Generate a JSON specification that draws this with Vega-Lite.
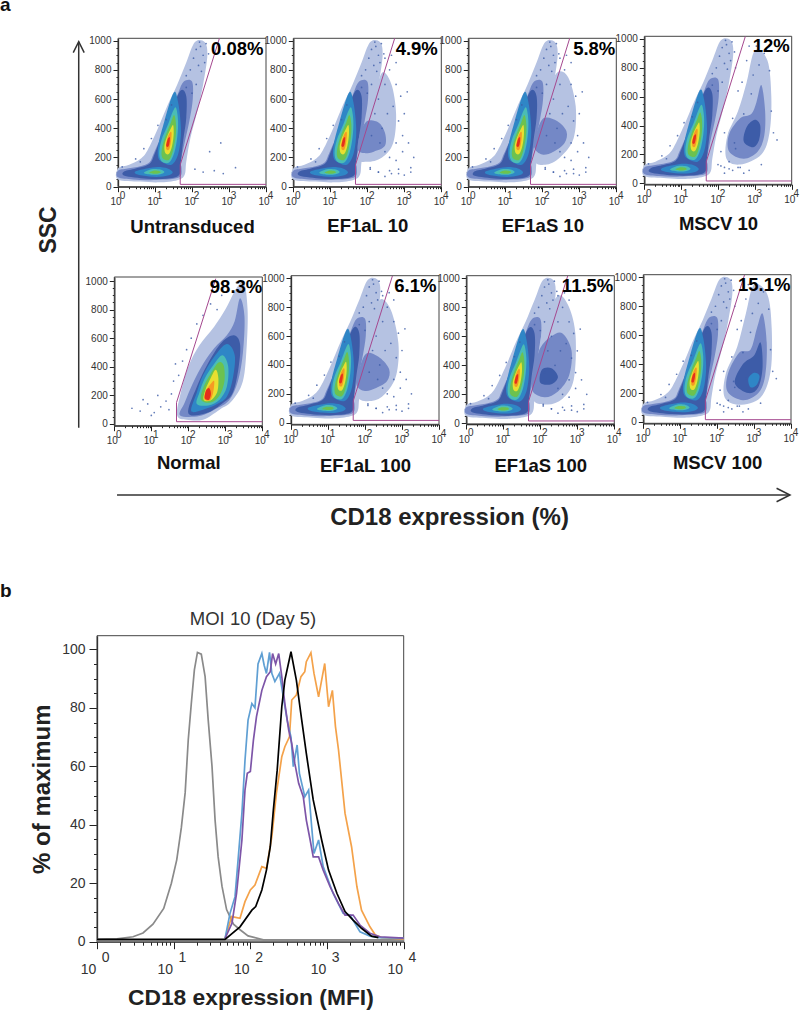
{"$schema":"https://vega.github.io/schema/vega-lite/v6.json","autosize":{"type":"none"},"padding":0,"width":800,"height":1010,"background":"white",
"config":{"font":"Liberation Sans","view":{"stroke":null},"axis":{"grid":false,"labelOverlap":false,"labelFlush":false,"domainColor":"#222","domainWidth":1.3,"tickColor":"#222","labelColor":"#333","labelFontSize":10,"labelFont":"Liberation Sans","titleFont":"Liberation Sans","titleFontWeight":"bold","titleColor":"#111","titleFontSize":18.5},"axisX":{"labelPadding":5,"labelOffset":-2.5},"axisY":{"labelPadding":2}},
"resolve":{"scale":{"x":"independent","y":"independent"},"axis":{"x":"independent","y":"independent"}},
"datasets":{
"gate":[{"x":10000,"y":16},{"x":48,"y":16},{"x":48,"y":150},{"x":550,"y":1016}],
"exps":[{"x":1,"y":0,"e":"0"},{"x":10,"y":0,"e":"1"},{"x":100,"y":0,"e":"2"},{"x":1000,"y":0,"e":"3"},{"x":10000,"y":0,"e":"4"}],
"neg":[
{"k":0,"l":0,"x":1,"y":50},{"k":0,"l":0,"x":4,"y":35},{"k":0,"l":0,"x":13,"y":30},{"k":0,"l":0,"x":40,"y":45},{"k":0,"l":0,"x":63,"y":80},{"k":0,"l":0,"x":70,"y":170},{"k":0,"l":0,"x":90,"y":330},{"k":0,"l":0,"x":140,"y":520},{"k":0,"l":0,"x":200,"y":700},{"k":0,"l":0,"x":260,"y":900},{"k":0,"l":0,"x":220,"y":990},{"k":0,"l":0,"x":120,"y":990},{"k":0,"l":0,"x":70,"y":850},{"k":0,"l":0,"x":40,"y":700},{"k":0,"l":0,"x":22,"y":560},{"k":0,"l":0,"x":12,"y":400},{"k":0,"l":0,"x":6.3,"y":250},{"k":0,"l":0,"x":4,"y":190},{"k":0,"l":0,"x":2,"y":150},{"k":0,"l":0,"x":1,"y":125},
{"k":1,"l":8,"x":1,"y":65},{"k":1,"l":8,"x":2.5,"y":50},{"k":1,"l":8,"x":6,"y":45},{"k":1,"l":8,"x":13,"y":48},{"k":1,"l":8,"x":32,"y":55},{"k":1,"l":8,"x":50,"y":75},{"k":1,"l":8,"x":52,"y":130},{"k":1,"l":8,"x":50,"y":170},{"k":1,"l":8,"x":63,"y":300},{"k":1,"l":8,"x":85,"y":450},{"k":1,"l":8,"x":105,"y":600},{"k":1,"l":8,"x":100,"y":720},{"k":1,"l":8,"x":60,"y":720},{"k":1,"l":8,"x":42,"y":640},{"k":1,"l":8,"x":26,"y":500},{"k":1,"l":8,"x":15,"y":350},{"k":1,"l":8,"x":9,"y":220},{"k":1,"l":8,"x":7,"y":165},{"k":1,"l":8,"x":4,"y":140},{"k":1,"l":8,"x":1.8,"y":125},{"k":1,"l":8,"x":1,"y":110},
{"k":11,"l":1,"x":1.5,"y":75},{"k":11,"l":1,"x":6,"y":55},{"k":11,"l":1,"x":20,"y":55},{"k":11,"l":1,"x":45,"y":80},{"k":11,"l":1,"x":50,"y":170},{"k":11,"l":1,"x":58,"y":320},{"k":11,"l":1,"x":70,"y":470},{"k":11,"l":1,"x":70,"y":620},{"k":11,"l":1,"x":50,"y":660},{"k":11,"l":1,"x":30,"y":540},{"k":11,"l":1,"x":16,"y":370},{"k":11,"l":1,"x":10,"y":230},{"k":11,"l":1,"x":7,"y":155},{"k":11,"l":1,"x":3,"y":125},{"k":11,"l":1,"x":1.5,"y":105},
{"k":2,"l":2,"x":3.2,"y":85},{"k":2,"l":2,"x":7,"y":70},{"k":2,"l":2,"x":14,"y":68},{"k":2,"l":2,"x":25,"y":80},{"k":2,"l":2,"x":30,"y":100},{"k":2,"l":2,"x":22,"y":125},{"k":2,"l":2,"x":12,"y":135},{"k":2,"l":2,"x":6,"y":125},{"k":2,"l":2,"x":3,"y":105},
{"k":3,"l":2,"x":15,"y":170},{"k":3,"l":2,"x":28,"y":150},{"k":3,"l":2,"x":42,"y":220},{"k":3,"l":2,"x":50,"y":350},{"k":3,"l":2,"x":48,"y":470},{"k":3,"l":2,"x":42,"y":580},{"k":3,"l":2,"x":35,"y":650},{"k":3,"l":2,"x":27,"y":600},{"k":3,"l":2,"x":18,"y":450},{"k":3,"l":2,"x":12.6,"y":300},{"k":3,"l":2,"x":12,"y":210},
{"k":4,"l":3,"x":5,"y":95},{"k":4,"l":3,"x":8,"y":82},{"k":4,"l":3,"x":14,"y":85},{"k":4,"l":3,"x":18,"y":100},{"k":4,"l":3,"x":14,"y":118},{"k":4,"l":3,"x":8,"y":120},
{"k":5,"l":3,"x":15,"y":175},{"k":5,"l":3,"x":24,"y":165},{"k":5,"l":3,"x":33,"y":230},{"k":5,"l":3,"x":40,"y":340},{"k":5,"l":3,"x":42,"y":450},{"k":5,"l":3,"x":37,"y":540},{"k":5,"l":3,"x":31,"y":520},{"k":5,"l":3,"x":22,"y":420},{"k":5,"l":3,"x":15,"y":320},{"k":5,"l":3,"x":13,"y":230},
{"k":6,"l":4,"x":7,"y":95},{"k":6,"l":4,"x":10,"y":88},{"k":6,"l":4,"x":14,"y":95},{"k":6,"l":4,"x":13,"y":108},{"k":6,"l":4,"x":9,"y":110},
{"k":7,"l":4,"x":17,"y":190},{"k":7,"l":4,"x":24,"y":185},{"k":7,"l":4,"x":30,"y":240},{"k":7,"l":4,"x":36,"y":340},{"k":7,"l":4,"x":37,"y":430},{"k":7,"l":4,"x":33,"y":490},{"k":7,"l":4,"x":27,"y":440},{"k":7,"l":4,"x":20,"y":360},{"k":7,"l":4,"x":16,"y":280},{"k":7,"l":4,"x":15,"y":220},
{"k":8,"l":5,"x":19,"y":230},{"k":8,"l":5,"x":24,"y":225},{"k":8,"l":5,"x":29,"y":280},{"k":8,"l":5,"x":32,"y":360},{"k":8,"l":5,"x":31,"y":420},{"k":8,"l":5,"x":27,"y":400},{"k":8,"l":5,"x":21,"y":340},{"k":8,"l":5,"x":18,"y":280},
{"k":9,"l":6,"x":20,"y":260},{"k":9,"l":6,"x":24,"y":255},{"k":9,"l":6,"x":27,"y":310},{"k":9,"l":6,"x":28,"y":370},{"k":9,"l":6,"x":25,"y":370},{"k":9,"l":6,"x":21,"y":320},
{"k":10,"l":7,"x":20,"y":280},{"k":10,"l":7,"x":23,"y":275},{"k":10,"l":7,"x":25,"y":310},{"k":10,"l":7,"x":25,"y":340},{"k":10,"l":7,"x":22,"y":325}],
"pos":[
{"p":2,"k":20,"l":0,"x":60,"y":200},{"p":2,"k":20,"l":0,"x":100,"y":170},{"p":2,"k":20,"l":0,"x":250,"y":200},{"p":2,"k":20,"l":0,"x":500,"y":300},{"p":2,"k":20,"l":0,"x":600,"y":500},{"p":2,"k":20,"l":0,"x":450,"y":700},{"p":2,"k":20,"l":0,"x":250,"y":780},{"p":2,"k":20,"l":0,"x":150,"y":600},{"p":2,"k":20,"l":0,"x":90,"y":420},
{"p":2,"k":21,"l":8,"x":55,"y":260},{"p":2,"k":21,"l":8,"x":80,"y":230},{"p":2,"k":21,"l":8,"x":150,"y":240},{"p":2,"k":21,"l":8,"x":300,"y":280},{"p":2,"k":21,"l":8,"x":300,"y":370},{"p":2,"k":21,"l":8,"x":200,"y":440},{"p":2,"k":21,"l":8,"x":100,"y":450},{"p":2,"k":21,"l":8,"x":65,"y":370},
{"p":3,"k":30,"l":0,"x":60,"y":190},{"p":3,"k":30,"l":0,"x":120,"y":150},{"p":3,"k":30,"l":0,"x":300,"y":200},{"p":3,"k":30,"l":0,"x":700,"y":330},{"p":3,"k":30,"l":0,"x":800,"y":550},{"p":3,"k":30,"l":0,"x":500,"y":750},{"p":3,"k":30,"l":0,"x":250,"y":780},{"p":3,"k":30,"l":0,"x":130,"y":620},{"p":3,"k":30,"l":0,"x":85,"y":420},
{"p":3,"k":31,"l":8,"x":60,"y":270},{"p":3,"k":31,"l":8,"x":100,"y":220},{"p":3,"k":31,"l":8,"x":200,"y":240},{"p":3,"k":31,"l":8,"x":400,"y":300},{"p":3,"k":31,"l":8,"x":450,"y":380},{"p":3,"k":31,"l":8,"x":250,"y":450},{"p":3,"k":31,"l":8,"x":110,"y":470},{"p":3,"k":31,"l":8,"x":70,"y":370},
{"p":4,"k":40,"l":0,"x":170,"y":170},{"p":4,"k":40,"l":0,"x":400,"y":130},{"p":4,"k":40,"l":0,"x":1500,"y":200},{"p":4,"k":40,"l":0,"x":2500,"y":350},{"p":4,"k":40,"l":0,"x":2800,"y":600},{"p":4,"k":40,"l":0,"x":2200,"y":850},{"p":4,"k":40,"l":0,"x":1000,"y":920},{"p":4,"k":40,"l":0,"x":600,"y":700},{"p":4,"k":40,"l":0,"x":350,"y":500},{"p":4,"k":40,"l":0,"x":180,"y":330},
{"p":4,"k":41,"l":8,"x":200,"y":220},{"p":4,"k":41,"l":8,"x":500,"y":170},{"p":4,"k":41,"l":8,"x":1200,"y":220},{"p":4,"k":41,"l":8,"x":1800,"y":330},{"p":4,"k":41,"l":8,"x":1900,"y":500},{"p":4,"k":41,"l":8,"x":1500,"y":680},{"p":4,"k":41,"l":8,"x":1100,"y":560},{"p":4,"k":41,"l":8,"x":800,"y":480},{"p":4,"k":41,"l":8,"x":400,"y":450},{"p":4,"k":41,"l":8,"x":200,"y":340},
{"p":4,"k":42,"l":1,"x":500,"y":290},{"p":4,"k":42,"l":1,"x":900,"y":250},{"p":4,"k":42,"l":1,"x":1300,"y":300},{"p":4,"k":42,"l":1,"x":1400,"y":400},{"p":4,"k":42,"l":1,"x":1000,"y":440},{"p":4,"k":42,"l":1,"x":600,"y":390},
{"p":6,"k":60,"l":0,"x":60,"y":190},{"p":6,"k":60,"l":0,"x":150,"y":150},{"p":6,"k":60,"l":0,"x":350,"y":200},{"p":6,"k":60,"l":0,"x":700,"y":330},{"p":6,"k":60,"l":0,"x":800,"y":550},{"p":6,"k":60,"l":0,"x":500,"y":780},{"p":6,"k":60,"l":0,"x":250,"y":850},{"p":6,"k":60,"l":0,"x":150,"y":650},{"p":6,"k":60,"l":0,"x":90,"y":430},
{"p":6,"k":61,"l":8,"x":60,"y":260},{"p":6,"k":61,"l":8,"x":100,"y":220},{"p":6,"k":61,"l":8,"x":200,"y":240},{"p":6,"k":61,"l":8,"x":400,"y":290},{"p":6,"k":61,"l":8,"x":450,"y":370},{"p":6,"k":61,"l":8,"x":250,"y":450},{"p":6,"k":61,"l":8,"x":110,"y":480},{"p":6,"k":61,"l":8,"x":70,"y":370},
{"p":7,"k":70,"l":0,"x":60,"y":180},{"p":7,"k":70,"l":0,"x":150,"y":130},{"p":7,"k":70,"l":0,"x":400,"y":170},{"p":7,"k":70,"l":0,"x":800,"y":300},{"p":7,"k":70,"l":0,"x":900,"y":600},{"p":7,"k":70,"l":0,"x":600,"y":800},{"p":7,"k":70,"l":0,"x":300,"y":880},{"p":7,"k":70,"l":0,"x":130,"y":700},{"p":7,"k":70,"l":0,"x":85,"y":450},
{"p":7,"k":71,"l":8,"x":60,"y":230},{"p":7,"k":71,"l":8,"x":130,"y":180},{"p":7,"k":71,"l":8,"x":300,"y":220},{"p":7,"k":71,"l":8,"x":600,"y":330},{"p":7,"k":71,"l":8,"x":700,"y":500},{"p":7,"k":71,"l":8,"x":400,"y":620},{"p":7,"k":71,"l":8,"x":200,"y":600},{"p":7,"k":71,"l":8,"x":100,"y":520},{"p":7,"k":71,"l":8,"x":70,"y":380},
{"p":7,"k":72,"l":1,"x":100,"y":280},{"p":7,"k":72,"l":1,"x":200,"y":270},{"p":7,"k":72,"l":1,"x":300,"y":320},{"p":7,"k":72,"l":1,"x":200,"y":380},{"p":7,"k":72,"l":1,"x":110,"y":370},
{"p":8,"k":80,"l":0,"x":160,"y":170},{"p":8,"k":80,"l":0,"x":400,"y":120},{"p":8,"k":80,"l":0,"x":1500,"y":170},{"p":8,"k":80,"l":0,"x":2800,"y":350},{"p":8,"k":80,"l":0,"x":3000,"y":650},{"p":8,"k":80,"l":0,"x":2300,"y":880},{"p":8,"k":80,"l":0,"x":1000,"y":950},{"p":8,"k":80,"l":0,"x":600,"y":750},{"p":8,"k":80,"l":0,"x":350,"y":520},{"p":8,"k":80,"l":0,"x":170,"y":330},
{"p":8,"k":81,"l":8,"x":190,"y":210},{"p":8,"k":81,"l":8,"x":500,"y":150},{"p":8,"k":81,"l":8,"x":1300,"y":200},{"p":8,"k":81,"l":8,"x":2000,"y":320},{"p":8,"k":81,"l":8,"x":2200,"y":550},{"p":8,"k":81,"l":8,"x":1700,"y":750},{"p":8,"k":81,"l":8,"x":1200,"y":650},{"p":8,"k":81,"l":8,"x":800,"y":500},{"p":8,"k":81,"l":8,"x":400,"y":480},{"p":8,"k":81,"l":8,"x":200,"y":340},
{"p":8,"k":82,"l":1,"x":300,"y":270},{"p":8,"k":82,"l":1,"x":700,"y":200},{"p":8,"k":82,"l":1,"x":1300,"y":240},{"p":8,"k":82,"l":1,"x":1700,"y":380},{"p":8,"k":82,"l":1,"x":1500,"y":550},{"p":8,"k":82,"l":1,"x":1000,"y":460},{"p":8,"k":82,"l":1,"x":500,"y":400},
{"p":8,"k":83,"l":2,"x":800,"y":240},{"p":8,"k":83,"l":2,"x":1200,"y":260},{"p":8,"k":83,"l":2,"x":1400,"y":320},{"p":8,"k":83,"l":2,"x":1000,"y":340},{"p":8,"k":83,"l":2,"x":700,"y":300},
{"p":5,"k":50,"l":0,"x":50,"y":60},{"p":5,"k":50,"l":0,"x":90,"y":30},{"p":5,"k":50,"l":0,"x":250,"y":30},{"p":5,"k":50,"l":0,"x":700,"y":100},{"p":5,"k":50,"l":0,"x":1500,"y":160},{"p":5,"k":50,"l":0,"x":3000,"y":300},{"p":5,"k":50,"l":0,"x":3800,"y":550},{"p":5,"k":50,"l":0,"x":4000,"y":800},{"p":5,"k":50,"l":0,"x":3200,"y":990},{"p":5,"k":50,"l":0,"x":2000,"y":950},{"p":5,"k":50,"l":0,"x":1000,"y":800},{"p":5,"k":50,"l":0,"x":500,"y":680},{"p":5,"k":50,"l":0,"x":200,"y":550},{"p":5,"k":50,"l":0,"x":100,"y":400},{"p":5,"k":50,"l":0,"x":60,"y":200},
{"p":5,"k":51,"l":8,"x":60,"y":60},{"p":5,"k":51,"l":8,"x":200,"y":55},{"p":5,"k":51,"l":8,"x":600,"y":110},{"p":5,"k":51,"l":8,"x":1300,"y":170},{"p":5,"k":51,"l":8,"x":2200,"y":300},{"p":5,"k":51,"l":8,"x":3000,"y":500},{"p":5,"k":51,"l":8,"x":3300,"y":750},{"p":5,"k":51,"l":8,"x":2500,"y":880},{"p":5,"k":51,"l":8,"x":1800,"y":720},{"p":5,"k":51,"l":8,"x":1100,"y":620},{"p":5,"k":51,"l":8,"x":500,"y":530},{"p":5,"k":51,"l":8,"x":250,"y":420},{"p":5,"k":51,"l":8,"x":130,"y":280},{"p":5,"k":51,"l":8,"x":80,"y":150},
{"p":5,"k":58,"l":1,"x":100,"y":75},{"p":5,"k":58,"l":1,"x":300,"y":75},{"p":5,"k":58,"l":1,"x":800,"y":140},{"p":5,"k":58,"l":1,"x":1600,"y":220},{"p":5,"k":58,"l":1,"x":2300,"y":400},{"p":5,"k":58,"l":1,"x":2500,"y":560},{"p":5,"k":58,"l":1,"x":1700,"y":620},{"p":5,"k":58,"l":1,"x":800,"y":570},{"p":5,"k":58,"l":1,"x":350,"y":430},{"p":5,"k":58,"l":1,"x":170,"y":260},
{"p":5,"k":52,"l":2,"x":120,"y":90},{"p":5,"k":52,"l":2,"x":250,"y":100},{"p":5,"k":52,"l":2,"x":600,"y":140},{"p":5,"k":52,"l":2,"x":1100,"y":190},{"p":5,"k":52,"l":2,"x":1600,"y":320},{"p":5,"k":52,"l":2,"x":1800,"y":480},{"p":5,"k":52,"l":2,"x":1100,"y":560},{"p":5,"k":52,"l":2,"x":500,"y":470},{"p":5,"k":52,"l":2,"x":250,"y":340},{"p":5,"k":52,"l":2,"x":170,"y":220},
{"p":5,"k":53,"l":3,"x":170,"y":140},{"p":5,"k":53,"l":3,"x":350,"y":130},{"p":5,"k":53,"l":3,"x":700,"y":170},{"p":5,"k":53,"l":3,"x":1100,"y":260},{"p":5,"k":53,"l":3,"x":1200,"y":400},{"p":5,"k":53,"l":3,"x":850,"y":480},{"p":5,"k":53,"l":3,"x":500,"y":420},{"p":5,"k":53,"l":3,"x":280,"y":320},{"p":5,"k":53,"l":3,"x":200,"y":220},
{"p":5,"k":54,"l":4,"x":220,"y":170},{"p":5,"k":54,"l":4,"x":400,"y":150},{"p":5,"k":54,"l":4,"x":700,"y":200},{"p":5,"k":54,"l":4,"x":950,"y":300},{"p":5,"k":54,"l":4,"x":900,"y":410},{"p":5,"k":54,"l":4,"x":650,"y":430},{"p":5,"k":54,"l":4,"x":400,"y":350},{"p":5,"k":54,"l":4,"x":260,"y":260},
{"p":5,"k":55,"l":5,"x":260,"y":170},{"p":5,"k":55,"l":5,"x":400,"y":165},{"p":5,"k":55,"l":5,"x":600,"y":220},{"p":5,"k":55,"l":5,"x":650,"y":320},{"p":5,"k":55,"l":5,"x":550,"y":380},{"p":5,"k":55,"l":5,"x":400,"y":320},{"p":5,"k":55,"l":5,"x":290,"y":240},
{"p":5,"k":56,"l":6,"x":270,"y":175},{"p":5,"k":56,"l":6,"x":380,"y":165},{"p":5,"k":56,"l":6,"x":470,"y":220},{"p":5,"k":56,"l":6,"x":500,"y":300},{"p":5,"k":56,"l":6,"x":400,"y":280},{"p":5,"k":56,"l":6,"x":300,"y":230},
{"p":5,"k":57,"l":7,"x":280,"y":180},{"p":5,"k":57,"l":7,"x":360,"y":170},{"p":5,"k":57,"l":7,"x":410,"y":210},{"p":5,"k":57,"l":7,"x":370,"y":250},{"p":5,"k":57,"l":7,"x":300,"y":235}],
"bg":[{"x":130,"y":940},{"x":170,"y":960},{"x":200,"y":900},{"x":110,"y":880},{"x":150,"y":830},{"x":240,"y":980},{"x":90,"y":800},{"x":70,"y":760},{"x":160,"y":990},{"x":50,"y":620},{"x":28,"y":560},{"x":20,"y":460},{"x":12,"y":420},{"x":8,"y":330},{"x":5,"y":260},{"x":3,"y":190},{"x":1.3,"y":135},{"x":4,"y":170},{"x":100,"y":640},{"x":130,"y":700},{"x":180,"y":790},{"x":70,"y":680},{"x":220,"y":850},{"x":280,"y":910},{"x":120,"y":120},{"x":200,"y":100},{"x":400,"y":110},{"x":700,"y":90},{"x":1500,"y":130},{"x":600,"y":300},{"x":300,"y":240}],
"spA":[{"x":200,"y":600},{"x":300,"y":700},{"x":400,"y":800},{"x":600,"y":700},{"x":800,"y":620},{"x":1000,"y":500},{"x":500,"y":550},{"x":350,"y":500},{"x":250,"y":400},{"x":700,"y":450},{"x":900,"y":350},{"x":1300,"y":300},{"x":1800,"y":200},{"x":120,"y":130},{"x":200,"y":100},{"x":300,"y":70},{"x":450,"y":90},{"x":700,"y":120},{"x":1000,"y":80},{"x":1500,"y":100},{"x":450,"y":900},{"x":300,"y":880},{"x":600,"y":850},{"x":1200,"y":650},{"x":160,"y":500},{"x":220,"y":300},{"x":130,"y":350},{"x":400,"y":200},{"x":600,"y":180},{"x":900,"y":240}],
"spB":[{"x":300,"y":800},{"x":450,"y":700},{"x":600,"y":850},{"x":900,"y":750},{"x":1300,"y":820},{"x":1800,"y":900},{"x":2500,"y":780},{"x":2800,"y":500},{"x":3200,"y":350},{"x":800,"y":620},{"x":350,"y":640},{"x":250,"y":450},{"x":150,"y":350},{"x":120,"y":220},{"x":100,"y":130},{"x":150,"y":110},{"x":250,"y":90},{"x":350,"y":110},{"x":500,"y":70},{"x":150,"y":70},{"x":200,"y":150},{"x":4000,"y":300},{"x":1100,"y":950},{"x":700,"y":950},{"x":500,"y":480},{"x":280,"y":280}],
"spN":[{"x":3,"y":110},{"x":5,"y":90},{"x":8,"y":140},{"x":12,"y":80},{"x":18,"y":120},{"x":25,"y":160},{"x":15,"y":200},{"x":35,"y":210},{"x":40,"y":300},{"x":55,"y":340},{"x":70,"y":440},{"x":90,"y":520},{"x":120,"y":600},{"x":170,"y":700},{"x":250,"y":760},{"x":400,"y":840},{"x":2000,"y":990},{"x":3000,"y":960},{"x":800,"y":900},{"x":600,"y":800},{"x":10,"y":60},{"x":6,"y":170},{"x":30,"y":100},{"x":45,"y":420}],
"hist":[
{"s":"g","lx":0,"v":0.8},{"s":"g","lx":0.26,"v":1},{"s":"g","lx":0.47,"v":1.7},{"s":"g","lx":0.6,"v":3},{"s":"g","lx":0.73,"v":6},{"s":"g","lx":0.87,"v":11.4},{"s":"g","lx":0.97,"v":20},{"s":"g","lx":1.04,"v":28},{"s":"g","lx":1.1,"v":39},{"s":"g","lx":1.15,"v":51},{"s":"g","lx":1.19,"v":69},{"s":"g","lx":1.23,"v":81.5},{"s":"g","lx":1.27,"v":93},{"s":"g","lx":1.31,"v":99},{"s":"g","lx":1.36,"v":98.4},{"s":"g","lx":1.41,"v":90.7},{"s":"g","lx":1.45,"v":76},{"s":"g","lx":1.5,"v":60},{"s":"g","lx":1.54,"v":41.6},{"s":"g","lx":1.58,"v":29},{"s":"g","lx":1.63,"v":19},{"s":"g","lx":1.69,"v":11},{"s":"g","lx":1.78,"v":6},{"s":"g","lx":1.87,"v":4},{"s":"g","lx":1.97,"v":2},{"s":"g","lx":2.17,"v":0.6},{"s":"g","lx":4,"v":0.6},
{"s":"o","lx":1.67,"v":1.1},{"s":"o","lx":1.757,"v":8.6},{"s":"o","lx":1.865,"v":8},{"s":"o","lx":1.93,"v":13.7},{"s":"o","lx":2,"v":17.7},{"s":"o","lx":2.06,"v":19.4},{"s":"o","lx":2.15,"v":25.7},{"s":"o","lx":2.21,"v":25.1},{"s":"o","lx":2.28,"v":35.9},{"s":"o","lx":2.34,"v":50.8},{"s":"o","lx":2.41,"v":63.3},{"s":"o","lx":2.45,"v":66.7},{"s":"o","lx":2.51,"v":70.1},{"s":"o","lx":2.54,"v":82.7},{"s":"o","lx":2.6,"v":84.4},{"s":"o","lx":2.66,"v":90.7},{"s":"o","lx":2.71,"v":92.4},{"s":"o","lx":2.73,"v":95.8},{"s":"o","lx":2.79,"v":98.9},{"s":"o","lx":2.83,"v":91.8},{"s":"o","lx":2.89,"v":83.8},{"s":"o","lx":2.97,"v":95.2},{"s":"o","lx":3.02,"v":80.4},{"s":"o","lx":3.07,"v":86},{"s":"o","lx":3.11,"v":73.6},{"s":"o","lx":3.15,"v":65.6},{"s":"o","lx":3.235,"v":43.9},{"s":"o","lx":3.32,"v":32.5},{"s":"o","lx":3.39,"v":18.8},{"s":"o","lx":3.45,"v":10.8},{"s":"o","lx":3.56,"v":5.1},{"s":"o","lx":3.63,"v":2.3},{"s":"o","lx":3.71,"v":1.4},{"s":"o","lx":4,"v":1},
{"s":"b","lx":1.67,"v":1.1},{"s":"b","lx":1.735,"v":9.7},{"s":"b","lx":1.8,"v":15.4},{"s":"b","lx":1.84,"v":28},{"s":"b","lx":1.89,"v":44},{"s":"b","lx":1.93,"v":62},{"s":"b","lx":1.97,"v":75.8},{"s":"b","lx":2.02,"v":81.5},{"s":"b","lx":2.06,"v":80},{"s":"b","lx":2.1,"v":95},{"s":"b","lx":2.15,"v":98.6},{"s":"b","lx":2.18,"v":94.6},{"s":"b","lx":2.21,"v":91.8},{"s":"b","lx":2.25,"v":99},{"s":"b","lx":2.28,"v":91.8},{"s":"b","lx":2.32,"v":89},{"s":"b","lx":2.38,"v":91.8},{"s":"b","lx":2.43,"v":83.8},{"s":"b","lx":2.48,"v":75.8},{"s":"b","lx":2.53,"v":70},{"s":"b","lx":2.56,"v":59.9},{"s":"b","lx":2.61,"v":67.3},{"s":"b","lx":2.64,"v":57.6},{"s":"b","lx":2.71,"v":49.6},{"s":"b","lx":2.76,"v":51.9},{"s":"b","lx":2.8,"v":39.3},{"s":"b","lx":2.83,"v":30.2},{"s":"b","lx":2.89,"v":34.8},{"s":"b","lx":2.95,"v":25.7},{"s":"b","lx":3.08,"v":16.5},{"s":"b","lx":3.21,"v":9.7},{"s":"b","lx":3.3,"v":9.1},{"s":"b","lx":3.43,"v":3.4},{"s":"b","lx":3.56,"v":1.9},{"s":"b","lx":3.69,"v":1.4},{"s":"b","lx":4,"v":1.2},
{"s":"p","lx":1.67,"v":1.1},{"s":"p","lx":1.76,"v":6.3},{"s":"p","lx":1.82,"v":16.5},{"s":"p","lx":1.89,"v":34.8},{"s":"p","lx":1.93,"v":51.9},{"s":"p","lx":1.96,"v":57.6},{"s":"p","lx":2,"v":58.2},{"s":"p","lx":2.04,"v":69},{"s":"p","lx":2.08,"v":77},{"s":"p","lx":2.15,"v":86},{"s":"p","lx":2.21,"v":90.7},{"s":"p","lx":2.26,"v":92.4},{"s":"p","lx":2.29,"v":98.6},{"s":"p","lx":2.33,"v":95},{"s":"p","lx":2.37,"v":98.6},{"s":"p","lx":2.41,"v":90.7},{"s":"p","lx":2.45,"v":81.5},{"s":"p","lx":2.5,"v":72.4},{"s":"p","lx":2.54,"v":67.8},{"s":"p","lx":2.58,"v":61},{"s":"p","lx":2.63,"v":54.2},{"s":"p","lx":2.69,"v":49.6},{"s":"p","lx":2.73,"v":41.6},{"s":"p","lx":2.78,"v":34.8},{"s":"p","lx":2.82,"v":29},{"s":"p","lx":2.89,"v":29},{"s":"p","lx":2.95,"v":24.5},{"s":"p","lx":3.04,"v":18.8},{"s":"p","lx":3.15,"v":13},{"s":"p","lx":3.235,"v":9.1},{"s":"p","lx":3.34,"v":9.1},{"s":"p","lx":3.43,"v":5.7},{"s":"p","lx":3.56,"v":2.9},{"s":"p","lx":3.69,"v":1.7},{"s":"p","lx":4,"v":1.2},
{"s":"k","lx":0,"v":0.8},{"s":"k","lx":1.67,"v":0.8},{"s":"k","lx":1.865,"v":5.1},{"s":"k","lx":2.02,"v":10.8},{"s":"k","lx":2.07,"v":12},{"s":"k","lx":2.15,"v":17.7},{"s":"k","lx":2.21,"v":24.5},{"s":"k","lx":2.26,"v":32.5},{"s":"k","lx":2.3,"v":45},{"s":"k","lx":2.35,"v":58.7},{"s":"k","lx":2.41,"v":80.4},{"s":"k","lx":2.45,"v":89.5},{"s":"k","lx":2.53,"v":99.2},{"s":"k","lx":2.6,"v":89.5},{"s":"k","lx":2.67,"v":75.8},{"s":"k","lx":2.73,"v":64.4},{"s":"k","lx":2.82,"v":48.5},{"s":"k","lx":2.93,"v":34.8},{"s":"k","lx":3.02,"v":24.5},{"s":"k","lx":3.13,"v":16.5},{"s":"k","lx":3.235,"v":10.3},{"s":"k","lx":3.34,"v":7.4},{"s":"k","lx":3.45,"v":4.6},{"s":"k","lx":3.58,"v":1.9},{"s":"k","lx":3.67,"v":1.4}]
},
"layer":[
{"encoding":{"x":{"field":"x","type":"quantitative","scale":{"type":"log","domain":[1,10000],"range":[118,266]},"axis":{"orient":"bottom","offset":-823.3,"title":"Untransduced","titlePadding":11,"tickCount":40,"labelExpr":"indexof([1,10,100,1000,10000],datum.value)<0?'':'10'","tickSize":{"condition":{"test":"indexof([1,10,100,1000,10000],datum.value)>=0","value":5},"value":2}}},"y":{"field":"y","type":"quantitative","scale":{"domain":[0,1016],"nice":false,"range":[186.7,38.3]},"axis":{"orient":"left","offset":-118,"title":null,"tickCount":20,"labelExpr":"datum.value%200?'':datum.value","tickSize":{"condition":{"test":"datum.value%200==0","value":5},"value":2}}}},
"layer":[
{"data":{"values":[{"x":1,"x2":10000,"y":0,"y2":1016}]},"mark":{"type":"rect","fill":"transparent","stroke":"#444","strokeWidth":1},"encoding":{"x2":{"field":"x2"},"y2":{"field":"y2"}}},
{"data":{"name":"neg"},"mark":{"type":"line","interpolate":"cardinal-closed","strokeWidth":0},"encoding":{"detail":{"field":"k"},"fill":{"field":"l","type":"ordinal","scale":{"domain":[0,1,2,3,4,5,6,7,8],"range":["#b5c2e2","#3d5ca8","#2f86c6","#4bbdb5","#6cc24f","#e8df30","#f59a23","#e5301c","#7488c6"]},"legend":null},"order":{"value":null}}},
{"data":{"name":"bg"},"mark":{"type":"point","filled":true,"size":3,"color":"#3d5ca8","opacity":0.8}},
{"data":{"name":"gate"},"mark":{"type":"line","color":"#a5488f","strokeWidth":1},"encoding":{"order":{"value":null}}},
{"data":{"name":"exps"},"mark":{"type":"text","fontSize":10,"color":"#333","dx":4.5,"dy":9.5},"encoding":{"text":{"field":"e"}}},
{"data":{"values":[{"t":"0.08%","x":10000,"y":945}]},"mark":{"type":"text","fontWeight":"bold","fontSize":18.5,"color":"#000","align":"right","baseline":"middle","dx":-2.5},"encoding":{"text":{"field":"t"}}}]},
{"encoding":{"x":{"field":"x","type":"quantitative","scale":{"type":"log","domain":[1,10000],"range":[293.3,441.3]},"axis":{"orient":"bottom","offset":-823.3,"title":"EF1aL 10","titlePadding":9.5,"tickCount":40,"labelExpr":"indexof([1,10,100,1000,10000],datum.value)<0?'':'10'","tickSize":{"condition":{"test":"indexof([1,10,100,1000,10000],datum.value)>=0","value":5},"value":2}}},"y":{"field":"y","type":"quantitative","scale":{"domain":[0,1016],"nice":false,"range":[186.7,38.3]},"axis":{"orient":"left","offset":-293.3,"title":null,"tickCount":20,"labelExpr":"datum.value%200?'':datum.value","tickSize":{"condition":{"test":"datum.value%200==0","value":5},"value":2}}}},
"layer":[
{"data":{"values":[{"x":1,"x2":10000,"y":0,"y2":1016}]},"mark":{"type":"rect","fill":"transparent","stroke":"#444","strokeWidth":1},"encoding":{"x2":{"field":"x2"},"y2":{"field":"y2"}}},
{"data":{"name":"neg"},"mark":{"type":"line","interpolate":"cardinal-closed","strokeWidth":0},"encoding":{"detail":{"field":"k"},"fill":{"field":"l","type":"ordinal","legend":null},"order":{"value":null}}},
{"data":{"name":"pos"},"transform":[{"filter":"datum.p==2"}],"mark":{"type":"line","interpolate":"cardinal-closed","strokeWidth":0},"encoding":{"detail":{"field":"k"},"fill":{"field":"l","type":"ordinal","legend":null},"order":{"value":null}}},
{"data":{"name":"bg"},"mark":{"type":"point","filled":true,"size":3,"color":"#3d5ca8","opacity":0.8}},
{"data":{"name":"spA"},"mark":{"type":"point","filled":true,"size":3,"color":"#3d5ca8","opacity":0.8}},
{"data":{"name":"gate"},"mark":{"type":"line","color":"#a5488f","strokeWidth":1},"encoding":{"order":{"value":null}}},
{"data":{"name":"exps"},"mark":{"type":"text","fontSize":10,"color":"#333","dx":4.5,"dy":9.5},"encoding":{"text":{"field":"e"}}},
{"data":{"values":[{"t":"4.9%","x":10000,"y":945}]},"mark":{"type":"text","fontWeight":"bold","fontSize":18.5,"color":"#000","align":"right","baseline":"middle","dx":-3.5},"encoding":{"text":{"field":"t"}}}]},
{"encoding":{"x":{"field":"x","type":"quantitative","scale":{"type":"log","domain":[1,10000],"range":[468.3,616.3]},"axis":{"orient":"bottom","offset":-823.3,"title":"EF1aS 10","titlePadding":9.5,"tickCount":40,"labelExpr":"indexof([1,10,100,1000,10000],datum.value)<0?'':'10'","tickSize":{"condition":{"test":"indexof([1,10,100,1000,10000],datum.value)>=0","value":5},"value":2}}},"y":{"field":"y","type":"quantitative","scale":{"domain":[0,1016],"nice":false,"range":[186.7,38.3]},"axis":{"orient":"left","offset":-468.3,"title":null,"tickCount":20,"labelExpr":"datum.value%200?'':datum.value","tickSize":{"condition":{"test":"datum.value%200==0","value":5},"value":2}}}},
"layer":[
{"data":{"values":[{"x":1,"x2":10000,"y":0,"y2":1016}]},"mark":{"type":"rect","fill":"transparent","stroke":"#444","strokeWidth":1},"encoding":{"x2":{"field":"x2"},"y2":{"field":"y2"}}},
{"data":{"name":"neg"},"mark":{"type":"line","interpolate":"cardinal-closed","strokeWidth":0},"encoding":{"detail":{"field":"k"},"fill":{"field":"l","type":"ordinal","legend":null},"order":{"value":null}}},
{"data":{"name":"pos"},"transform":[{"filter":"datum.p==3"}],"mark":{"type":"line","interpolate":"cardinal-closed","strokeWidth":0},"encoding":{"detail":{"field":"k"},"fill":{"field":"l","type":"ordinal","legend":null},"order":{"value":null}}},
{"data":{"name":"bg"},"mark":{"type":"point","filled":true,"size":3,"color":"#3d5ca8","opacity":0.8}},
{"data":{"name":"spA"},"mark":{"type":"point","filled":true,"size":3,"color":"#3d5ca8","opacity":0.8}},
{"data":{"name":"gate"},"mark":{"type":"line","color":"#a5488f","strokeWidth":1},"encoding":{"order":{"value":null}}},
{"data":{"name":"exps"},"mark":{"type":"text","fontSize":10,"color":"#333","dx":4.5,"dy":9.5},"encoding":{"text":{"field":"e"}}},
{"data":{"values":[{"t":"5.8%","x":10000,"y":945}]},"mark":{"type":"text","fontWeight":"bold","fontSize":18.5,"color":"#000","align":"right","baseline":"middle","dx":-1},"encoding":{"text":{"field":"t"}}}]},
{"encoding":{"x":{"field":"x","type":"quantitative","scale":{"type":"log","domain":[1,10000],"range":[644.3,791.7]},"axis":{"orient":"bottom","offset":-825.7,"title":"MSCV 10","titlePadding":10,"tickCount":40,"labelExpr":"indexof([1,10,100,1000,10000],datum.value)<0?'':'10'","tickSize":{"condition":{"test":"indexof([1,10,100,1000,10000],datum.value)>=0","value":5},"value":2}}},"y":{"field":"y","type":"quantitative","scale":{"domain":[-7,1018],"nice":false,"range":[184.3,36.3]},"axis":{"orient":"left","offset":-644.3,"title":null,"tickCount":20,"labelExpr":"datum.value%200?'':datum.value","tickSize":{"condition":{"test":"datum.value%200==0","value":5},"value":2}}}},
"layer":[
{"data":{"values":[{"x":1,"x2":10000,"y":-7,"y2":1018}]},"mark":{"type":"rect","fill":"transparent","stroke":"#444","strokeWidth":1},"encoding":{"x2":{"field":"x2"},"y2":{"field":"y2"}}},
{"data":{"name":"neg"},"mark":{"type":"line","interpolate":"cardinal-closed","strokeWidth":0},"encoding":{"detail":{"field":"k"},"fill":{"field":"l","type":"ordinal","legend":null},"order":{"value":null}}},
{"data":{"name":"pos"},"transform":[{"filter":"datum.p==4"}],"mark":{"type":"line","interpolate":"cardinal-closed","strokeWidth":0},"encoding":{"detail":{"field":"k"},"fill":{"field":"l","type":"ordinal","legend":null},"order":{"value":null}}},
{"data":{"name":"bg"},"mark":{"type":"point","filled":true,"size":3,"color":"#3d5ca8","opacity":0.8}},
{"data":{"name":"spB"},"mark":{"type":"point","filled":true,"size":3,"color":"#3d5ca8","opacity":0.8}},
{"data":{"name":"gate"},"mark":{"type":"line","color":"#a5488f","strokeWidth":1},"encoding":{"order":{"value":null}}},
{"data":{"name":"exps"},"mark":{"type":"text","fontSize":10,"color":"#333","dx":4.5,"dy":10.5},"encoding":{"text":{"field":"e"}}},
{"data":{"values":[{"t":"12%","x":10000,"y":953}]},"mark":{"type":"text","fontWeight":"bold","fontSize":18.5,"color":"#000","align":"right","baseline":"middle","dx":-2},"encoding":{"text":{"field":"t"}}}]},
{"encoding":{"x":{"field":"x","type":"quantitative","scale":{"type":"log","domain":[1,10000],"range":[114.3,262.3]},"axis":{"orient":"bottom","offset":-584.3,"title":"Normal","titlePadding":8,"tickCount":40,"labelExpr":"indexof([1,10,100,1000,10000],datum.value)<0?'':'10'","tickSize":{"condition":{"test":"indexof([1,10,100,1000,10000],datum.value)>=0","value":5},"value":2}}},"y":{"field":"y","type":"quantitative","scale":{"domain":[-12,1028],"nice":false,"range":[425.7,277]},"axis":{"orient":"left","offset":-114.3,"title":null,"tickCount":20,"labelExpr":"datum.value%200?'':datum.value","tickSize":{"condition":{"test":"datum.value%200==0","value":5},"value":2}}}},
"layer":[
{"data":{"values":[{"x":1,"x2":10000,"y":-12,"y2":1028}]},"mark":{"type":"rect","fill":"transparent","stroke":"#444","strokeWidth":1},"encoding":{"x2":{"field":"x2"},"y2":{"field":"y2"}}},
{"data":{"name":"pos"},"transform":[{"filter":"datum.p==5"}],"mark":{"type":"line","interpolate":"cardinal-closed","strokeWidth":0},"encoding":{"detail":{"field":"k"},"fill":{"field":"l","type":"ordinal","legend":null},"order":{"value":null}}},
{"data":{"name":"spN"},"mark":{"type":"point","filled":true,"size":3,"color":"#3d5ca8","opacity":0.8}},
{"data":{"name":"gate"},"mark":{"type":"line","color":"#a5488f","strokeWidth":1},"encoding":{"order":{"value":null}}},
{"data":{"name":"exps"},"mark":{"type":"text","fontSize":10,"color":"#333","dx":4.5,"dy":11.2},"encoding":{"text":{"field":"e"}}},
{"data":{"values":[{"t":"98.3%","x":10000,"y":958}]},"mark":{"type":"text","fontWeight":"bold","fontSize":18.5,"color":"#000","align":"right","baseline":"middle"},"encoding":{"text":{"field":"t"}}}]},
{"encoding":{"x":{"field":"x","type":"quantitative","scale":{"type":"log","domain":[1,10000],"range":[291,439]},"axis":{"orient":"bottom","offset":-585.7,"title":"EF1aL 100","titlePadding":12.5,"tickCount":40,"labelExpr":"indexof([1,10,100,1000,10000],datum.value)<0?'':'10'","tickSize":{"condition":{"test":"indexof([1,10,100,1000,10000],datum.value)>=0","value":5},"value":2}}},"y":{"field":"y","type":"quantitative","scale":{"domain":[-11,1018],"nice":false,"range":[424.3,275.7]},"axis":{"orient":"left","offset":-291,"title":null,"tickCount":20,"labelExpr":"datum.value%200?'':datum.value","tickSize":{"condition":{"test":"datum.value%200==0","value":5},"value":2}}}},
"layer":[
{"data":{"values":[{"x":1,"x2":10000,"y":-11,"y2":1018}]},"mark":{"type":"rect","fill":"transparent","stroke":"#444","strokeWidth":1},"encoding":{"x2":{"field":"x2"},"y2":{"field":"y2"}}},
{"data":{"name":"neg"},"mark":{"type":"line","interpolate":"cardinal-closed","strokeWidth":0},"encoding":{"detail":{"field":"k"},"fill":{"field":"l","type":"ordinal","legend":null},"order":{"value":null}}},
{"data":{"name":"pos"},"transform":[{"filter":"datum.p==6"}],"mark":{"type":"line","interpolate":"cardinal-closed","strokeWidth":0},"encoding":{"detail":{"field":"k"},"fill":{"field":"l","type":"ordinal","legend":null},"order":{"value":null}}},
{"data":{"name":"bg"},"mark":{"type":"point","filled":true,"size":3,"color":"#3d5ca8","opacity":0.8}},
{"data":{"name":"spA"},"mark":{"type":"point","filled":true,"size":3,"color":"#3d5ca8","opacity":0.8}},
{"data":{"name":"gate"},"mark":{"type":"line","color":"#a5488f","strokeWidth":1},"encoding":{"order":{"value":null}}},
{"data":{"name":"exps"},"mark":{"type":"text","fontSize":10,"color":"#333","dx":4.5,"dy":11},"encoding":{"text":{"field":"e"}}},
{"data":{"values":[{"t":"6.1%","x":10000,"y":948}]},"mark":{"type":"text","fontWeight":"bold","fontSize":18.5,"color":"#000","align":"right","baseline":"middle","dx":-2.5},"encoding":{"text":{"field":"t"}}}]},
{"encoding":{"x":{"field":"x","type":"quantitative","scale":{"type":"log","domain":[1,10000],"range":[466.3,614.3]},"axis":{"orient":"bottom","offset":-586,"title":"EF1aS 100","titlePadding":12,"tickCount":40,"labelExpr":"indexof([1,10,100,1000,10000],datum.value)<0?'':'10'","tickSize":{"condition":{"test":"indexof([1,10,100,1000,10000],datum.value)>=0","value":5},"value":2}}},"y":{"field":"y","type":"quantitative","scale":{"domain":[-5,1018],"nice":false,"range":[424,275.7]},"axis":{"orient":"left","offset":-466.3,"title":null,"tickCount":20,"labelExpr":"datum.value%200?'':datum.value","tickSize":{"condition":{"test":"datum.value%200==0","value":5},"value":2}}}},
"layer":[
{"data":{"values":[{"x":1,"x2":10000,"y":-5,"y2":1018}]},"mark":{"type":"rect","fill":"transparent","stroke":"#444","strokeWidth":1},"encoding":{"x2":{"field":"x2"},"y2":{"field":"y2"}}},
{"data":{"name":"neg"},"mark":{"type":"line","interpolate":"cardinal-closed","strokeWidth":0},"encoding":{"detail":{"field":"k"},"fill":{"field":"l","type":"ordinal","legend":null},"order":{"value":null}}},
{"data":{"name":"pos"},"transform":[{"filter":"datum.p==7"}],"mark":{"type":"line","interpolate":"cardinal-closed","strokeWidth":0},"encoding":{"detail":{"field":"k"},"fill":{"field":"l","type":"ordinal","legend":null},"order":{"value":null}}},
{"data":{"name":"bg"},"mark":{"type":"point","filled":true,"size":3,"color":"#3d5ca8","opacity":0.8}},
{"data":{"name":"spA"},"mark":{"type":"point","filled":true,"size":3,"color":"#3d5ca8","opacity":0.8}},
{"data":{"name":"gate"},"mark":{"type":"line","color":"#a5488f","strokeWidth":1},"encoding":{"order":{"value":null}}},
{"data":{"name":"exps"},"mark":{"type":"text","fontSize":10,"color":"#333","dx":4.5,"dy":10.2},"encoding":{"text":{"field":"e"}}},
{"data":{"values":[{"t":"11.5%","x":10000,"y":948}]},"mark":{"type":"text","fontWeight":"bold","fontSize":18.5,"color":"#000","align":"right","baseline":"middle","dx":-1},"encoding":{"text":{"field":"t"}}}]},
{"encoding":{"x":{"field":"x","type":"quantitative","scale":{"type":"log","domain":[1,10000],"range":[643.3,791]},"axis":{"orient":"bottom","offset":-586.7,"title":"MSCV 100","titlePadding":10,"tickCount":40,"labelExpr":"indexof([1,10,100,1000,10000],datum.value)<0?'':'10'","tickSize":{"condition":{"test":"indexof([1,10,100,1000,10000],datum.value)>=0","value":5},"value":2}}},"y":{"field":"y","type":"quantitative","scale":{"domain":[-9,1018],"nice":false,"range":[423.3,274.7]},"axis":{"orient":"left","offset":-643.3,"title":null,"tickCount":20,"labelExpr":"datum.value%200?'':datum.value","tickSize":{"condition":{"test":"datum.value%200==0","value":5},"value":2}}}},
"layer":[
{"data":{"values":[{"x":1,"x2":10000,"y":-9,"y2":1018}]},"mark":{"type":"rect","fill":"transparent","stroke":"#444","strokeWidth":1},"encoding":{"x2":{"field":"x2"},"y2":{"field":"y2"}}},
{"data":{"name":"neg"},"mark":{"type":"line","interpolate":"cardinal-closed","strokeWidth":0},"encoding":{"detail":{"field":"k"},"fill":{"field":"l","type":"ordinal","legend":null},"order":{"value":null}}},
{"data":{"name":"pos"},"transform":[{"filter":"datum.p==8"}],"mark":{"type":"line","interpolate":"cardinal-closed","strokeWidth":0},"encoding":{"detail":{"field":"k"},"fill":{"field":"l","type":"ordinal","legend":null},"order":{"value":null}}},
{"data":{"name":"bg"},"mark":{"type":"point","filled":true,"size":3,"color":"#3d5ca8","opacity":0.8}},
{"data":{"name":"spB"},"mark":{"type":"point","filled":true,"size":3,"color":"#3d5ca8","opacity":0.8}},
{"data":{"name":"gate"},"mark":{"type":"line","color":"#a5488f","strokeWidth":1},"encoding":{"order":{"value":null}}},
{"data":{"name":"exps"},"mark":{"type":"text","fontSize":10,"color":"#333","dx":4.5,"dy":10.8},"encoding":{"text":{"field":"e"}}},
{"data":{"values":[{"t":"15.1%","x":10000,"y":948}]},"mark":{"type":"text","fontWeight":"bold","fontSize":18.5,"color":"#000","align":"right","baseline":"middle","dx":-0.5},"encoding":{"text":{"field":"t"}}}]},
{"encoding":{"x":{"field":"lx","type":"quantitative","scale":{"domain":[0,4],"nice":false,"range":[97,403.7]},"axis":{"orient":"bottom","offset":-68.3,"title":"CD18 expression (MFI)","titleFontSize":22.8,"titleColor":"#222","titlePadding":10,"labelFontSize":14,"labelOffset":-9,"labelPadding":14,"tickSize":{"condition":{"test":"datum.value%1==0","value":7},"value":3.5},"labelExpr":"datum.value%1?'':'10'","values":[0,0.301,0.477,0.602,0.699,0.778,0.845,0.903,0.954,1,1.301,1.477,1.602,1.699,1.778,1.845,1.903,1.954,2,2.301,2.477,2.602,2.699,2.778,2.845,2.903,2.954,3,3.301,3.477,3.602,3.699,3.778,3.845,3.903,3.954,4]}},"y":{"field":"v","type":"quantitative","scale":{"domain":[0,104.7],"nice":false,"range":[941.7,635.7]},"axis":{"orient":"left","offset":-97,"title":"% of maximum","titleFontSize":24,"titleColor":"#222","titlePadding":7.3,"labelFontSize":14,"labelPadding":4,"tickCount":20,"labelExpr":"datum.value%20?'':datum.value","tickSize":{"condition":{"test":"datum.value%20==0","value":8},"value":3.5}}}},
"layer":[
{"data":{"values":[{"lx":0,"lx2":4,"v":0,"v2":104.7}]},"mark":{"type":"rect","fill":"transparent","stroke":"#444","strokeWidth":1},"encoding":{"x2":{"field":"lx2"},"y2":{"field":"v2"}}},
{"data":{"values":[{"lx":0,"lx2":4,"v":0.5}]},"mark":{"type":"rule","color":"#9a9a9a","strokeWidth":2.5},"encoding":{"x2":{"field":"lx2"}}},
{"data":{"name":"hist"},"mark":{"type":"line","strokeWidth":1.7},"encoding":{"stroke":{"field":"s","type":"nominal","scale":{"domain":["g","o","b","p","k"],"range":["#8a8a8a","#f4a24a","#5f9fd3","#7d55a8","#000000"]},"legend":null}}},
{"data":{"values":[{"lx":0,"v":0,"e":"0"},{"lx":1,"v":0,"e":"1"},{"lx":2,"v":0,"e":"2"},{"lx":3,"v":0,"e":"3"},{"lx":4,"v":0,"e":"4"}]},"mark":{"type":"text","fontSize":14,"color":"#333","dx":8.7,"dy":16.5},"encoding":{"text":{"field":"e"}}}]},
{"data":{"values":[{"a":"a","b":"b","s":"SSC","c":"CD18 expression (%)","m":"MOI 10 (Day 5)"}]},"layer":[
{"mark":{"type":"rule","color":"#333","strokeWidth":1.5},"encoding":{"x":{"datum":0.0984,"type":"quantitative","scale":{"domain":[0,1],"range":[0,800]},"axis":null},"y":{"datum":0.0413,"type":"quantitative","scale":{"domain":[0,1],"range":[0,1010]},"axis":null},"y2":{"datum":0.4235}}},
{"mark":{"type":"point","shape":"M-1,1L0,-1L1,1","filled":false,"size":120,"color":"#333","strokeWidth":1.5,"opacity":1},"encoding":{"x":{"datum":0.0984,"type":"quantitative","axis":null},"y":{"datum":0.0467,"type":"quantitative","axis":null}}},
{"mark":{"type":"rule","color":"#333","strokeWidth":1.5},"encoding":{"x":{"datum":0.1463,"type":"quantitative","axis":null},"x2":{"datum":0.9875},"y":{"datum":0.4901,"type":"quantitative","axis":null}}},
{"mark":{"type":"point","shape":"M-1,-1L1,0L-1,1","filled":false,"size":180,"color":"#333","strokeWidth":1.5,"opacity":1},"encoding":{"x":{"datum":0.9791,"type":"quantitative","axis":null},"y":{"datum":0.4901,"type":"quantitative","axis":null}}},
{"mark":{"type":"text","angle":270,"fontWeight":"bold","fontSize":23,"color":"#222","baseline":"middle"},"encoding":{"x":{"datum":0.0613,"type":"quantitative","axis":null},"y":{"datum":0.2277,"type":"quantitative","axis":null},"text":{"field":"s"}}},
{"mark":{"type":"text","fontWeight":"bold","fontSize":24,"color":"#222","baseline":"alphabetic"},"encoding":{"x":{"datum":0.5619,"type":"quantitative","axis":null},"y":{"datum":0.5198,"type":"quantitative","axis":null},"text":{"field":"c"}}},
{"mark":{"type":"text","fontSize":18.5,"color":"#333","baseline":"alphabetic"},"encoding":{"x":{"datum":0.3163,"type":"quantitative","axis":null},"y":{"datum":0.6188,"type":"quantitative","axis":null},"text":{"field":"m"}}},
{"mark":{"type":"text","align":"left","fontWeight":"bold","fontSize":19,"color":"#111","baseline":"alphabetic"},"encoding":{"x":{"datum":0,"type":"quantitative","axis":null},"y":{"datum":0.0109,"type":"quantitative","axis":null},"text":{"field":"a"}}},
{"mark":{"type":"text","align":"left","fontWeight":"bold","fontSize":19,"color":"#111","baseline":"alphabetic"},"encoding":{"x":{"datum":0,"type":"quantitative","axis":null},"y":{"datum":0.5911,"type":"quantitative","axis":null},"text":{"field":"b"}}}]}
]}
